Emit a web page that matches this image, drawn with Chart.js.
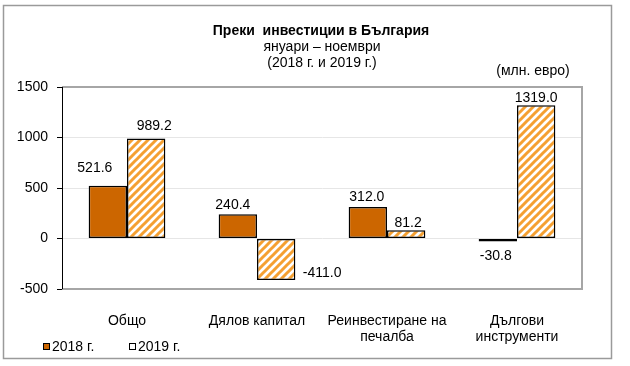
<!DOCTYPE html>
<html>
<head>
<meta charset="utf-8">
<script src="https://cdn.jsdelivr.net/npm/chart.js@4/dist/chart.umd.min.js"></script>
<style>
  html, body { margin: 0; padding: 0; background: #fff; }
  #wrap { width: 630px; height: 366px; position: relative; }
</style>
</head>
<body>
<div id="wrap"><canvas id="c" width="630" height="366"></canvas></div>
<script>
// ---- data ----
const categories = [['Общо'], ['Дялов капитал'], ['Реинвестиране на', 'печалба'], ['Дългови', 'инструменти']];
const seriesNames = ['2018 г.', '2019 г.'];
const values2018 = [521.6, 240.4, 312.0, -30.8];
const values2019 = [989.2, -411.0, 81.2, 1319.0];
const yTicks = [-500, 0, 500, 1000, 1500];
const titleLines = ['Преки  инвестиции в България', 'януари – ноември', '(2018 г. и 2019 г.)'];
const unitLabel = '(млн. евро)';

// ---- styles ----
const FONT = "'Liberation Sans', Arial, sans-serif";
const FS = 14;
const C2018 = '#CC6600';
const STRIPE = '#F5A031';

function makeStripe() {
  const s = 8;
  const cv = document.createElement('canvas');
  cv.width = s; cv.height = s;
  const g = cv.getContext('2d');
  g.fillStyle = '#fff';
  g.fillRect(0, 0, s, s);
  g.strokeStyle = STRIPE;
  g.lineWidth = 3;
  g.beginPath();
  g.moveTo(-2, s + 2); g.lineTo(s + 2, -2);
  g.moveTo(-2, 2); g.lineTo(2, -2);
  g.moveTo(s - 2, s + 2); g.lineTo(s + 2, s - 2);
  g.stroke();
  return g.createPattern(cv, 'repeat');
}

// label offsets (text centre relative to bar centre / bar end), per dataset and point
const labelOffsets = [
  [{dx: -13, dy: -18}, {dx: -5, dy: -9}, {dx: -1, dy: -10}, {dx: -2, dy: 15}],
  [{dx: 8, dy: -12}, {dx: 46, dy: -7}, {dx: 2, dy: -7}, {dx: 0, dy: -7}]
];

const decorPlugin = {
  id: 'decor',
  beforeDraw(chart) {
    const ctx = chart.ctx;
    ctx.save();
    ctx.fillStyle = '#fff';
    ctx.fillRect(0, 0, chart.width, chart.height);
    ctx.strokeStyle = '#9a9a9a';
    ctx.lineWidth = 1.5;
    ctx.strokeRect(3.5, 5.5, 608, 353);
    ctx.restore();
  },
  beforeDatasetsDraw(chart) {
    const ctx = chart.ctx, a = chart.chartArea;
    ctx.save();
    ctx.strokeStyle = '#a6a6a6';
    ctx.lineWidth = 2;
    ctx.beginPath();
    ctx.moveTo(a.left, a.top); ctx.lineTo(a.right, a.top);
    ctx.lineTo(a.right, a.bottom); ctx.lineTo(a.left, a.bottom);
    ctx.stroke();
    ctx.strokeStyle = '#000';
    ctx.lineWidth = 1;
    ctx.beginPath();
    ctx.moveTo(a.left + 0.5, a.top); ctx.lineTo(a.left + 0.5, a.bottom);
    ctx.stroke();
    ctx.restore();
  },
  afterDatasetsDraw(chart) {
    const ctx = chart.ctx;
    ctx.save();
    ctx.font = FS + 'px ' + FONT;
    ctx.fillStyle = '#000';
    ctx.textAlign = 'center';
    ctx.textBaseline = 'middle';
    chart.data.datasets.forEach((ds, di) => {
      const meta = chart.getDatasetMeta(di);
      meta.data.forEach((el, i) => {
        const v = ds.data[i];
        const off = labelOffsets[di][i];
        ctx.fillText(v.toFixed(1), el.x + off.dx, el.y + off.dy);
      });
    });
    // titles
    ctx.font = 'bold ' + FS + 'px ' + FONT;
    ctx.fillText(titleLines[0], 321, 31);
    ctx.font = FS + 'px ' + FONT;
    ctx.fillText(titleLines[1], 322, 47);
    ctx.fillText(titleLines[2], 322, 63);
    ctx.fillText(unitLabel, 533, 71);
    // legend
    ctx.textAlign = 'left';
    const lx = [43, 129];
    chart.data.datasets.forEach((ds, di) => {
      ctx.fillStyle = di === 0 ? C2018 : '#fff';
      ctx.fillRect(lx[di], 343, 7, 7);
      ctx.strokeStyle = '#000';
      ctx.lineWidth = 1;
      ctx.strokeRect(lx[di] + 0.5, 343.5, 6, 6);
      ctx.fillStyle = '#000';
      ctx.fillText(ds.label, lx[di] + 9, 347);
    });
    ctx.restore();
  }
};

new Chart(document.getElementById('c'), {
  type: 'bar',
  data: {
    labels: categories,
    datasets: [
      { label: seriesNames[0], data: values2018, backgroundColor: C2018, borderColor: '#000', borderWidth: 1.5, borderSkipped: false },
      { label: seriesNames[1], data: values2019, backgroundColor: makeStripe(), borderColor: '#000', borderWidth: 1.5, borderSkipped: false }
    ]
  },
  options: {
    responsive: false,
    animation: false,
    events: [],
    layout: { padding: { left: 0, right: 48, top: 87, bottom: 0 } },
    datasets: { bar: { categoryPercentage: 0.59, barPercentage: 1 } },
    plugins: { legend: { display: false }, title: { display: false }, tooltip: { enabled: false } },
    scales: {
      x: {
        grid: { display: false, drawTicks: false },
        border: { display: false },
        ticks: { color: '#000', font: { family: FONT, size: FS, lineHeight: 1.15 }, padding: 24, maxRotation: 0, autoSkip: false },
        afterFit(s) { s.height = 77; }
      },
      y: {
        min: -500, max: 1500,
        afterBuildTicks(s) { s.ticks = yTicks.map(v => ({ value: v })); },
        grid: { color: '#e6e6e6', tickColor: '#000', tickLength: 5, lineWidth: 1 },
        border: { display: true, color: '#000', width: 1 },
        ticks: { color: '#000', font: { family: FONT, size: FS }, padding: 9, callback: v => String(v) },
        afterFit(s) { s.width = 62; }
      }
    }
  },
  plugins: [decorPlugin]
});
</script>
</body>
</html>
